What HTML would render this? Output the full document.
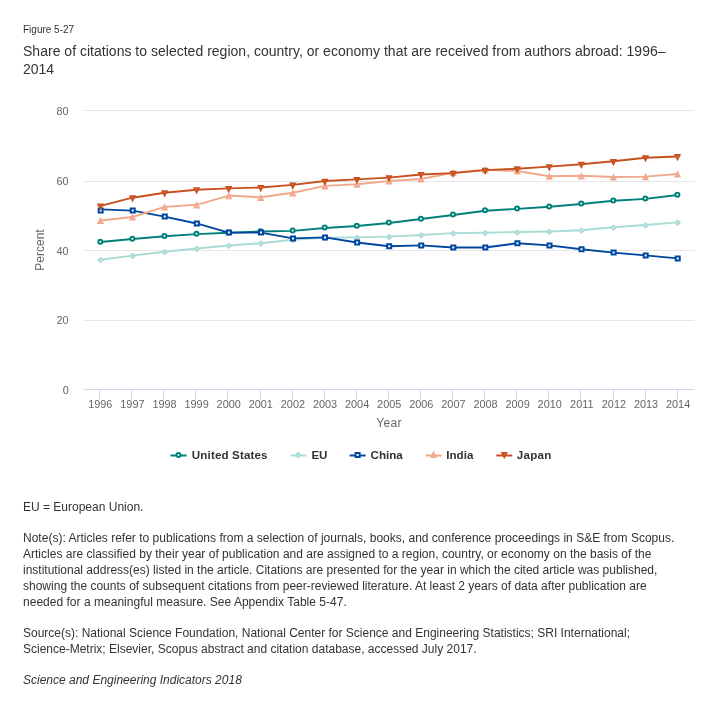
<!DOCTYPE html>
<html><head><meta charset="utf-8"><title>Figure 5-27</title><style>
html,body{margin:0;padding:0;background:#fff;}
body{width:724px;height:711px;position:relative;overflow:hidden;font-family:"Liberation Sans",sans-serif;color:#333;}
.l{position:absolute;white-space:nowrap;line-height:1;margin:0;}
#w{position:absolute;left:0;top:0;width:724px;height:711px;will-change:transform;}
</style></head><body><div id="w">
<div class="l" id="fig" style="left:23px;top:24.54px;font-size:10px;letter-spacing:0px;">Figure 5-27</div>
<div class="l" id="t1" style="left:23px;top:44.15px;font-size:14px;letter-spacing:0.015px;">Share of citations to selected region, country, or economy that are received from authors abroad: 1996–</div>
<div class="l" id="t2" style="left:23px;top:62.15px;font-size:14px;letter-spacing:0px;">2014</div>
<div class="l" id="n0" style="left:23px;top:500.84px;font-size:12px;letter-spacing:0px;">EU = European Union.</div>
<div class="l" id="n1" style="left:23px;top:531.84px;font-size:12px;letter-spacing:0.008px;">Note(s): Articles refer to publications from a selection of journals, books, and conference proceedings in S&amp;E from Scopus.</div>
<div class="l" id="n2" style="left:23px;top:547.84px;font-size:12px;letter-spacing:0.008px;">Articles are classified by their year of publication and are assigned to a region, country, or economy on the basis of the</div>
<div class="l" id="n3" style="left:23px;top:563.84px;font-size:12px;letter-spacing:0px;">institutional address(es) listed in the article. Citations are presented for the year in which the cited article was published,</div>
<div class="l" id="n4" style="left:23px;top:579.84px;font-size:12px;letter-spacing:0.005px;">showing the counts of subsequent citations from peer-reviewed literature. At least 2 years of data after publication are</div>
<div class="l" id="n5" style="left:23px;top:595.84px;font-size:12px;letter-spacing:0.02px;">needed for a meaningful measure. See Appendix Table 5-47.</div>
<div class="l" id="s1" style="left:23px;top:626.84px;font-size:12px;letter-spacing:0px;">Source(s): National Science Foundation, National Center for Science and Engineering Statistics; SRI International;</div>
<div class="l" id="s2" style="left:23px;top:642.84px;font-size:12px;letter-spacing:0px;">Science-Metrix; Elsevier, Scopus abstract and citation database, accessed July 2017.</div>
<div class="l" id="it" style="left:23px;top:673.84px;font-size:12px;letter-spacing:0px;font-style:italic;">Science and Engineering Indicators 2018</div>
<svg width="724" height="711" viewBox="0 0 724 711" style="position:absolute;left:0;top:0">
<path d="M84.5 110.5H694.5" stroke="#e6e6e6" stroke-width="1" fill="none"/>
<path d="M84.5 181.5H694.5" stroke="#e6e6e6" stroke-width="1" fill="none"/>
<path d="M84.5 250.5H694.5" stroke="#e6e6e6" stroke-width="1" fill="none"/>
<path d="M84.5 320.5H694.5" stroke="#e6e6e6" stroke-width="1" fill="none"/>
<path d="M84 389.5H694.5" stroke="#ccd6eb" stroke-width="1" fill="none"/>
<path d="M99.5 389.5V399.5" stroke="#ccd6eb" stroke-width="1" fill="none"/>
<path d="M131.5 389.5V399.5" stroke="#ccd6eb" stroke-width="1" fill="none"/>
<path d="M163.5 389.5V399.5" stroke="#ccd6eb" stroke-width="1" fill="none"/>
<path d="M195.5 389.5V399.5" stroke="#ccd6eb" stroke-width="1" fill="none"/>
<path d="M227.5 389.5V399.5" stroke="#ccd6eb" stroke-width="1" fill="none"/>
<path d="M260.5 389.5V399.5" stroke="#ccd6eb" stroke-width="1" fill="none"/>
<path d="M292.5 389.5V399.5" stroke="#ccd6eb" stroke-width="1" fill="none"/>
<path d="M324.5 389.5V399.5" stroke="#ccd6eb" stroke-width="1" fill="none"/>
<path d="M356.5 389.5V399.5" stroke="#ccd6eb" stroke-width="1" fill="none"/>
<path d="M388.5 389.5V399.5" stroke="#ccd6eb" stroke-width="1" fill="none"/>
<path d="M420.5 389.5V399.5" stroke="#ccd6eb" stroke-width="1" fill="none"/>
<path d="M452.5 389.5V399.5" stroke="#ccd6eb" stroke-width="1" fill="none"/>
<path d="M484.5 389.5V399.5" stroke="#ccd6eb" stroke-width="1" fill="none"/>
<path d="M516.5 389.5V399.5" stroke="#ccd6eb" stroke-width="1" fill="none"/>
<path d="M548.5 389.5V399.5" stroke="#ccd6eb" stroke-width="1" fill="none"/>
<path d="M580.5 389.5V399.5" stroke="#ccd6eb" stroke-width="1" fill="none"/>
<path d="M613.5 389.5V399.5" stroke="#ccd6eb" stroke-width="1" fill="none"/>
<path d="M645.5 389.5V399.5" stroke="#ccd6eb" stroke-width="1" fill="none"/>
<path d="M677.5 389.5V399.5" stroke="#ccd6eb" stroke-width="1" fill="none"/>
<g font-family="Liberation Sans, sans-serif" font-size="10.9" fill="#666">
<text x="68.7" y="115.3" text-anchor="end">80</text>
<text x="68.7" y="184.5" text-anchor="end">60</text>
<text x="68.7" y="254.5" text-anchor="end">40</text>
<text x="68.7" y="323.5" text-anchor="end">20</text>
<text x="68.7" y="393.5" text-anchor="end">0</text>
<text x="100.3" y="408" text-anchor="middle">1996</text>
<text x="132.4" y="408" text-anchor="middle">1997</text>
<text x="164.5" y="408" text-anchor="middle">1998</text>
<text x="196.6" y="408" text-anchor="middle">1999</text>
<text x="228.7" y="408" text-anchor="middle">2000</text>
<text x="260.8" y="408" text-anchor="middle">2001</text>
<text x="292.9" y="408" text-anchor="middle">2002</text>
<text x="325.0" y="408" text-anchor="middle">2003</text>
<text x="357.1" y="408" text-anchor="middle">2004</text>
<text x="389.2" y="408" text-anchor="middle">2005</text>
<text x="421.3" y="408" text-anchor="middle">2006</text>
<text x="453.4" y="408" text-anchor="middle">2007</text>
<text x="485.5" y="408" text-anchor="middle">2008</text>
<text x="517.6" y="408" text-anchor="middle">2009</text>
<text x="549.7" y="408" text-anchor="middle">2010</text>
<text x="581.8" y="408" text-anchor="middle">2011</text>
<text x="613.9" y="408" text-anchor="middle">2012</text>
<text x="646.0" y="408" text-anchor="middle">2013</text>
<text x="678.1" y="408" text-anchor="middle">2014</text>
</g>
<g font-family="Liberation Sans, sans-serif" font-size="12" fill="#666">
<text x="389" y="427" text-anchor="middle" letter-spacing="0.3">Year</text>
<text transform="translate(44 250) rotate(-90)" text-anchor="middle">Percent</text>
</g>
<polyline points="100.45,242.05 132.51,239.05 164.57,236.25 196.63,234.15 228.69,232.75 260.75,231.55 292.81,230.85 324.87,227.95 356.93,226.05 388.99,222.95 421.05,219.00 453.11,214.95 485.17,210.70 517.23,208.85 549.29,206.75 581.35,203.95 613.41,200.75 645.47,198.85 677.53,195.05" fill="none" stroke="#00807A" stroke-width="1.9" stroke-linejoin="round" stroke-linecap="round"/>
<circle cx="100.30" cy="241.70" r="2" fill="#fff" stroke="#00807A" stroke-width="2"/>
<circle cx="132.36" cy="238.70" r="2" fill="#fff" stroke="#00807A" stroke-width="2"/>
<circle cx="164.42" cy="235.90" r="2" fill="#fff" stroke="#00807A" stroke-width="2"/>
<circle cx="196.48" cy="233.80" r="2" fill="#fff" stroke="#00807A" stroke-width="2"/>
<circle cx="228.54" cy="232.40" r="2" fill="#fff" stroke="#00807A" stroke-width="2"/>
<circle cx="260.60" cy="231.20" r="2" fill="#fff" stroke="#00807A" stroke-width="2"/>
<circle cx="292.66" cy="230.50" r="2" fill="#fff" stroke="#00807A" stroke-width="2"/>
<circle cx="324.72" cy="227.60" r="2" fill="#fff" stroke="#00807A" stroke-width="2"/>
<circle cx="356.78" cy="225.70" r="2" fill="#fff" stroke="#00807A" stroke-width="2"/>
<circle cx="388.84" cy="222.60" r="2" fill="#fff" stroke="#00807A" stroke-width="2"/>
<circle cx="420.90" cy="218.65" r="2" fill="#fff" stroke="#00807A" stroke-width="2"/>
<circle cx="452.96" cy="214.60" r="2" fill="#fff" stroke="#00807A" stroke-width="2"/>
<circle cx="485.02" cy="210.35" r="2" fill="#fff" stroke="#00807A" stroke-width="2"/>
<circle cx="517.08" cy="208.50" r="2" fill="#fff" stroke="#00807A" stroke-width="2"/>
<circle cx="549.14" cy="206.40" r="2" fill="#fff" stroke="#00807A" stroke-width="2"/>
<circle cx="581.20" cy="203.60" r="2" fill="#fff" stroke="#00807A" stroke-width="2"/>
<circle cx="613.26" cy="200.40" r="2" fill="#fff" stroke="#00807A" stroke-width="2"/>
<circle cx="645.32" cy="198.50" r="2" fill="#fff" stroke="#00807A" stroke-width="2"/>
<circle cx="677.38" cy="194.70" r="2" fill="#fff" stroke="#00807A" stroke-width="2"/>
<polyline points="100.45,259.70 132.51,255.60 164.57,251.80 196.63,248.45 228.69,245.55 260.75,243.20 292.81,239.75 324.87,237.70 356.93,237.40 388.99,236.65 421.05,235.00 453.11,233.10 485.17,232.70 517.23,232.00 549.29,231.45 581.35,230.20 613.41,227.20 645.47,225.05 677.53,222.35" fill="none" stroke="#A9DCD5" stroke-width="1.9" stroke-linejoin="round" stroke-linecap="round"/>
<path d="M100.55 258.10L102.55 260.10L100.55 262.10L98.55 260.10Z" fill="#fff" stroke="#A9DCD5" stroke-width="2"/>
<path d="M132.61 254.00L134.61 256.00L132.61 258.00L130.61 256.00Z" fill="#fff" stroke="#A9DCD5" stroke-width="2"/>
<path d="M164.67 250.20L166.67 252.20L164.67 254.20L162.67 252.20Z" fill="#fff" stroke="#A9DCD5" stroke-width="2"/>
<path d="M196.73 246.85L198.73 248.85L196.73 250.85L194.73 248.85Z" fill="#fff" stroke="#A9DCD5" stroke-width="2"/>
<path d="M228.79 243.95L230.79 245.95L228.79 247.95L226.79 245.95Z" fill="#fff" stroke="#A9DCD5" stroke-width="2"/>
<path d="M260.85 241.60L262.85 243.60L260.85 245.60L258.85 243.60Z" fill="#fff" stroke="#A9DCD5" stroke-width="2"/>
<path d="M292.91 238.15L294.91 240.15L292.91 242.15L290.91 240.15Z" fill="#fff" stroke="#A9DCD5" stroke-width="2"/>
<path d="M324.97 236.10L326.97 238.10L324.97 240.10L322.97 238.10Z" fill="#fff" stroke="#A9DCD5" stroke-width="2"/>
<path d="M357.03 235.80L359.03 237.80L357.03 239.80L355.03 237.80Z" fill="#fff" stroke="#A9DCD5" stroke-width="2"/>
<path d="M389.09 235.05L391.09 237.05L389.09 239.05L387.09 237.05Z" fill="#fff" stroke="#A9DCD5" stroke-width="2"/>
<path d="M421.15 233.40L423.15 235.40L421.15 237.40L419.15 235.40Z" fill="#fff" stroke="#A9DCD5" stroke-width="2"/>
<path d="M453.21 231.50L455.21 233.50L453.21 235.50L451.21 233.50Z" fill="#fff" stroke="#A9DCD5" stroke-width="2"/>
<path d="M485.27 231.10L487.27 233.10L485.27 235.10L483.27 233.10Z" fill="#fff" stroke="#A9DCD5" stroke-width="2"/>
<path d="M517.33 230.40L519.33 232.40L517.33 234.40L515.33 232.40Z" fill="#fff" stroke="#A9DCD5" stroke-width="2"/>
<path d="M549.39 229.85L551.39 231.85L549.39 233.85L547.39 231.85Z" fill="#fff" stroke="#A9DCD5" stroke-width="2"/>
<path d="M581.45 228.60L583.45 230.60L581.45 232.60L579.45 230.60Z" fill="#fff" stroke="#A9DCD5" stroke-width="2"/>
<path d="M613.51 225.60L615.51 227.60L613.51 229.60L611.51 227.60Z" fill="#fff" stroke="#A9DCD5" stroke-width="2"/>
<path d="M645.57 223.45L647.57 225.45L645.57 227.45L643.57 225.45Z" fill="#fff" stroke="#A9DCD5" stroke-width="2"/>
<path d="M677.63 220.75L679.63 222.75L677.63 224.75L675.63 222.75Z" fill="#fff" stroke="#A9DCD5" stroke-width="2"/>
<polyline points="100.45,209.40 132.51,210.60 164.57,216.60 196.63,223.45 228.69,232.60 260.75,232.60 292.81,238.40 324.87,237.40 356.93,242.50 388.99,246.20 421.05,245.40 453.11,247.50 485.17,247.50 517.23,243.30 549.29,245.40 581.35,249.30 613.41,252.60 645.47,255.40 677.53,258.40" fill="none" stroke="#0047A0" stroke-width="1.9" stroke-linejoin="round" stroke-linecap="round"/>
<path d="M98.65 208.50h4v4h-4Z" fill="#fff" stroke="#0047A0" stroke-width="2"/>
<path d="M130.71 208.60h4v4h-4Z" fill="#fff" stroke="#0047A0" stroke-width="2"/>
<path d="M162.77 214.60h4v4h-4Z" fill="#fff" stroke="#0047A0" stroke-width="2"/>
<path d="M194.83 221.45h4v4h-4Z" fill="#fff" stroke="#0047A0" stroke-width="2"/>
<path d="M226.89 230.60h4v4h-4Z" fill="#fff" stroke="#0047A0" stroke-width="2"/>
<path d="M258.95 230.60h4v4h-4Z" fill="#fff" stroke="#0047A0" stroke-width="2"/>
<path d="M291.01 236.40h4v4h-4Z" fill="#fff" stroke="#0047A0" stroke-width="2"/>
<path d="M323.07 235.40h4v4h-4Z" fill="#fff" stroke="#0047A0" stroke-width="2"/>
<path d="M355.13 240.50h4v4h-4Z" fill="#fff" stroke="#0047A0" stroke-width="2"/>
<path d="M387.19 244.20h4v4h-4Z" fill="#fff" stroke="#0047A0" stroke-width="2"/>
<path d="M419.25 243.40h4v4h-4Z" fill="#fff" stroke="#0047A0" stroke-width="2"/>
<path d="M451.31 245.50h4v4h-4Z" fill="#fff" stroke="#0047A0" stroke-width="2"/>
<path d="M483.37 245.50h4v4h-4Z" fill="#fff" stroke="#0047A0" stroke-width="2"/>
<path d="M515.43 241.30h4v4h-4Z" fill="#fff" stroke="#0047A0" stroke-width="2"/>
<path d="M547.49 243.40h4v4h-4Z" fill="#fff" stroke="#0047A0" stroke-width="2"/>
<path d="M579.55 247.30h4v4h-4Z" fill="#fff" stroke="#0047A0" stroke-width="2"/>
<path d="M611.61 250.60h4v4h-4Z" fill="#fff" stroke="#0047A0" stroke-width="2"/>
<path d="M643.67 253.40h4v4h-4Z" fill="#fff" stroke="#0047A0" stroke-width="2"/>
<path d="M675.73 256.40h4v4h-4Z" fill="#fff" stroke="#0047A0" stroke-width="2"/>
<polyline points="100.45,220.50 132.51,217.00 164.57,206.90 196.63,204.80 228.69,195.55 260.75,197.30 292.81,192.80 324.87,185.90 356.93,184.20 388.99,181.00 421.05,179.00 453.11,172.70 485.17,169.70 517.23,171.00 549.29,176.20 581.35,175.80 613.41,177.00 645.47,176.60 677.53,174.00" fill="none" stroke="#F0A98F" stroke-width="1.9" stroke-linejoin="round" stroke-linecap="round"/>
<path d="M100.45 219.10L102.45 223.10L98.45 223.10Z" fill="#fff" stroke="#F0A98F" stroke-width="2"/>
<path d="M132.51 215.60L134.51 219.60L130.51 219.60Z" fill="#fff" stroke="#F0A98F" stroke-width="2"/>
<path d="M164.57 205.50L166.57 209.50L162.57 209.50Z" fill="#fff" stroke="#F0A98F" stroke-width="2"/>
<path d="M196.63 203.40L198.63 207.40L194.63 207.40Z" fill="#fff" stroke="#F0A98F" stroke-width="2"/>
<path d="M228.69 194.15L230.69 198.15L226.69 198.15Z" fill="#fff" stroke="#F0A98F" stroke-width="2"/>
<path d="M260.75 195.90L262.75 199.90L258.75 199.90Z" fill="#fff" stroke="#F0A98F" stroke-width="2"/>
<path d="M292.81 191.40L294.81 195.40L290.81 195.40Z" fill="#fff" stroke="#F0A98F" stroke-width="2"/>
<path d="M324.87 184.50L326.87 188.50L322.87 188.50Z" fill="#fff" stroke="#F0A98F" stroke-width="2"/>
<path d="M356.93 182.80L358.93 186.80L354.93 186.80Z" fill="#fff" stroke="#F0A98F" stroke-width="2"/>
<path d="M388.99 179.60L390.99 183.60L386.99 183.60Z" fill="#fff" stroke="#F0A98F" stroke-width="2"/>
<path d="M421.05 177.60L423.05 181.60L419.05 181.60Z" fill="#fff" stroke="#F0A98F" stroke-width="2"/>
<path d="M453.11 171.30L455.11 175.30L451.11 175.30Z" fill="#fff" stroke="#F0A98F" stroke-width="2"/>
<path d="M485.17 168.30L487.17 172.30L483.17 172.30Z" fill="#fff" stroke="#F0A98F" stroke-width="2"/>
<path d="M517.23 169.60L519.23 173.60L515.23 173.60Z" fill="#fff" stroke="#F0A98F" stroke-width="2"/>
<path d="M549.29 174.80L551.29 178.80L547.29 178.80Z" fill="#fff" stroke="#F0A98F" stroke-width="2"/>
<path d="M581.35 174.40L583.35 178.40L579.35 178.40Z" fill="#fff" stroke="#F0A98F" stroke-width="2"/>
<path d="M613.41 175.60L615.41 179.60L611.41 179.60Z" fill="#fff" stroke="#F0A98F" stroke-width="2"/>
<path d="M645.47 175.20L647.47 179.20L643.47 179.20Z" fill="#fff" stroke="#F0A98F" stroke-width="2"/>
<path d="M677.53 172.60L679.53 176.60L675.53 176.60Z" fill="#fff" stroke="#F0A98F" stroke-width="2"/>
<polyline points="100.45,205.90 132.51,197.70 164.57,192.70 196.63,189.75 228.69,188.40 260.75,187.50 292.81,184.90 324.87,181.05 356.93,179.40 388.99,177.60 421.05,174.50 453.11,173.10 485.17,170.10 517.23,168.70 549.29,166.60 581.35,164.20 613.41,161.30 645.47,157.70 677.53,156.50" fill="none" stroke="#C8501E" stroke-width="1.9" stroke-linejoin="round" stroke-linecap="round"/>
<path d="M98.45 204.40L102.45 204.40L100.45 208.40Z" fill="#fff" stroke="#C8501E" stroke-width="2"/>
<path d="M130.51 196.30L134.51 196.30L132.51 200.30Z" fill="#fff" stroke="#C8501E" stroke-width="2"/>
<path d="M162.57 191.30L166.57 191.30L164.57 195.30Z" fill="#fff" stroke="#C8501E" stroke-width="2"/>
<path d="M194.63 188.35L198.63 188.35L196.63 192.35Z" fill="#fff" stroke="#C8501E" stroke-width="2"/>
<path d="M226.69 187.00L230.69 187.00L228.69 191.00Z" fill="#fff" stroke="#C8501E" stroke-width="2"/>
<path d="M258.75 186.10L262.75 186.10L260.75 190.10Z" fill="#fff" stroke="#C8501E" stroke-width="2"/>
<path d="M290.81 183.50L294.81 183.50L292.81 187.50Z" fill="#fff" stroke="#C8501E" stroke-width="2"/>
<path d="M322.87 179.65L326.87 179.65L324.87 183.65Z" fill="#fff" stroke="#C8501E" stroke-width="2"/>
<path d="M354.93 178.00L358.93 178.00L356.93 182.00Z" fill="#fff" stroke="#C8501E" stroke-width="2"/>
<path d="M386.99 176.20L390.99 176.20L388.99 180.20Z" fill="#fff" stroke="#C8501E" stroke-width="2"/>
<path d="M419.05 173.10L423.05 173.10L421.05 177.10Z" fill="#fff" stroke="#C8501E" stroke-width="2"/>
<path d="M451.11 171.70L455.11 171.70L453.11 175.70Z" fill="#fff" stroke="#C8501E" stroke-width="2"/>
<path d="M483.17 168.70L487.17 168.70L485.17 172.70Z" fill="#fff" stroke="#C8501E" stroke-width="2"/>
<path d="M515.23 167.30L519.23 167.30L517.23 171.30Z" fill="#fff" stroke="#C8501E" stroke-width="2"/>
<path d="M547.29 165.20L551.29 165.20L549.29 169.20Z" fill="#fff" stroke="#C8501E" stroke-width="2"/>
<path d="M579.35 162.80L583.35 162.80L581.35 166.80Z" fill="#fff" stroke="#C8501E" stroke-width="2"/>
<path d="M611.41 159.90L615.41 159.90L613.41 163.90Z" fill="#fff" stroke="#C8501E" stroke-width="2"/>
<path d="M643.47 156.30L647.47 156.30L645.47 160.30Z" fill="#fff" stroke="#C8501E" stroke-width="2"/>
<path d="M675.53 155.10L679.53 155.10L677.53 159.10Z" fill="#fff" stroke="#C8501E" stroke-width="2"/>
<g font-family="Liberation Sans, sans-serif" font-size="11.6" font-weight="bold" fill="#333">
<path d="M170.5 455.5H186.5" stroke="#00807A" stroke-width="2" fill="none"/>
<circle cx="178.50" cy="455.00" r="2" fill="#fff" stroke="#00807A" stroke-width="2"/>
<text x="191.8" y="459.3" letter-spacing="0.14">United States</text>
<path d="M290.2 455.5H306.2" stroke="#A9DCD5" stroke-width="2" fill="none"/>
<path d="M298.20 453.00L300.20 455.00L298.20 457.00L296.20 455.00Z" fill="#fff" stroke="#A9DCD5" stroke-width="2"/>
<text x="311.4" y="459.3" letter-spacing="0">EU</text>
<path d="M349.6 455.5H365.6" stroke="#0047A0" stroke-width="2" fill="none"/>
<path d="M355.60 453.00h4v4h-4Z" fill="#fff" stroke="#0047A0" stroke-width="2"/>
<text x="370.6" y="459.3" letter-spacing="0">China</text>
<path d="M425.6 455.5H441.6" stroke="#F0A98F" stroke-width="2" fill="none"/>
<path d="M433.60 453.00L435.60 457.00L431.60 457.00Z" fill="#fff" stroke="#F0A98F" stroke-width="2"/>
<text x="446.3" y="459.3" letter-spacing="0">India</text>
<path d="M496.3 455.5H512.3" stroke="#C8501E" stroke-width="2" fill="none"/>
<path d="M502.30 453.00L506.30 453.00L504.30 457.00Z" fill="#fff" stroke="#C8501E" stroke-width="2"/>
<text x="516.8" y="459.3" letter-spacing="0.27">Japan</text>
</g>
</svg>
</div></body></html>
